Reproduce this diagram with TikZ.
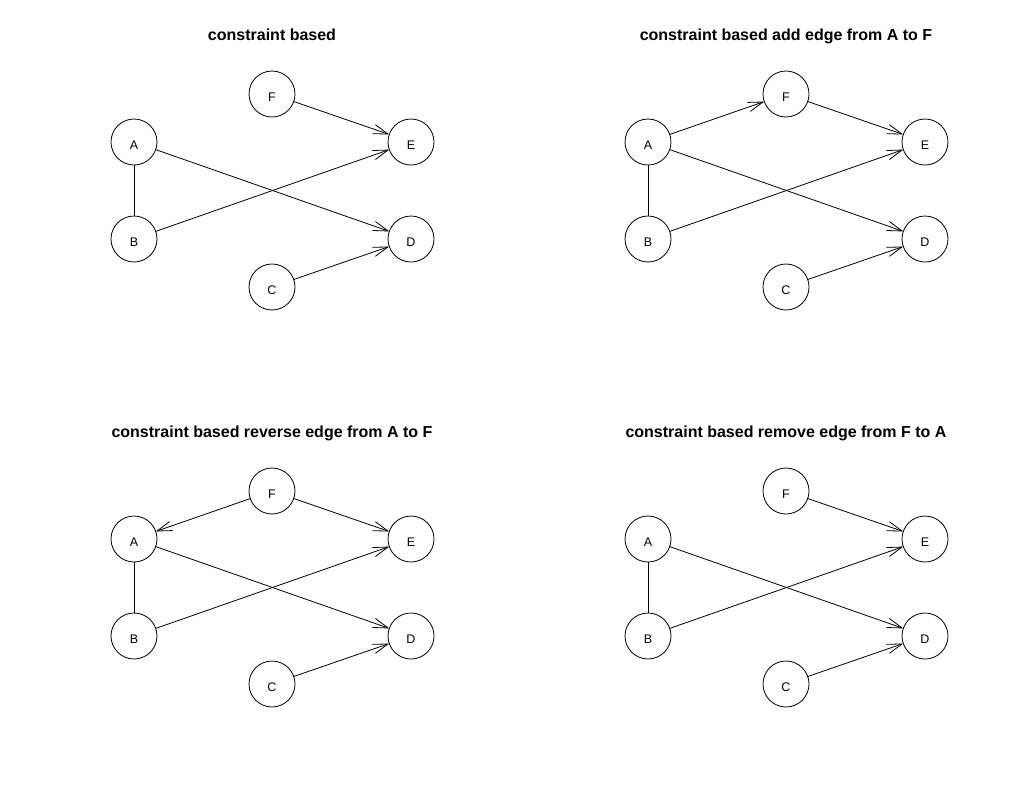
\documentclass[tikz,border=0pt]{standalone}
\usepackage{fontspec}
\setmainfont{Liberation Sans}
\usetikzlibrary{arrows.meta}
\begin{document}
\begin{tikzpicture}[x=1pt,y=-1pt,
  vert/.style={circle,draw,line width=0.8pt,minimum size=46pt,inner sep=0pt,outer sep=0pt,text height=15.6pt,text depth=0pt,font=\fontsize{12.5}{12.5}\selectfont},
  edge/.style={line width=0.8pt},
  arc/.style={edge,-{Straight Barb[length=15pt,width=9.5pt,line width=0.8pt]}},
  ttl/.style={anchor=base,font=\bfseries\fontsize{16}{16}\selectfont}]
\useasboundingbox (0,0) rectangle (1028,796);
% panel 1
\begin{scope}[name prefix=p1-]
\node[ttl] (t) at (272,40) {constraint based};
\node[vert] (A) at (134,142) {A};
\node[vert] (B) at (134,239) {B};
\node[vert] (C) at (272,287) {C};
\node[vert] (D) at (411,239) {D};
\node[vert] (E) at (411,142) {E};
\node[vert] (F) at (272,94) {F};
\draw[edge] (A) -- (B);
\draw[arc] (A) -- (D);
\draw[arc] (B) -- (E);
\draw[arc] (F) -- (E);
\draw[arc] (C) -- (D);
\end{scope}
% panel 2
\begin{scope}[shift={(514,0)},name prefix=p2-]
\node[ttl] (t) at (272,40) {constraint based add edge from A to F};
\node[vert] (A) at (134,142) {A};
\node[vert] (B) at (134,239) {B};
\node[vert] (C) at (272,287) {C};
\node[vert] (D) at (411,239) {D};
\node[vert] (E) at (411,142) {E};
\node[vert] (F) at (272,94) {F};
\draw[edge] (A) -- (B);
\draw[arc] (A) -- (F);
\draw[arc] (A) -- (D);
\draw[arc] (B) -- (E);
\draw[arc] (F) -- (E);
\draw[arc] (C) -- (D);
\end{scope}
% panel 3
\begin{scope}[shift={(0,397)},name prefix=p3-]
\node[ttl] (t) at (272,40) {constraint based reverse edge from A to F};
\node[vert] (A) at (134,142) {A};
\node[vert] (B) at (134,239) {B};
\node[vert] (C) at (272,287) {C};
\node[vert] (D) at (411,239) {D};
\node[vert] (E) at (411,142) {E};
\node[vert] (F) at (272,94) {F};
\draw[edge] (A) -- (B);
\draw[arc] (F) -- (A);
\draw[arc] (A) -- (D);
\draw[arc] (B) -- (E);
\draw[arc] (F) -- (E);
\draw[arc] (C) -- (D);
\end{scope}
% panel 4
\begin{scope}[shift={(514,397)},name prefix=p4-]
\node[ttl] (t) at (272,40) {constraint based remove edge from F to A};
\node[vert] (A) at (134,142) {A};
\node[vert] (B) at (134,239) {B};
\node[vert] (C) at (272,287) {C};
\node[vert] (D) at (411,239) {D};
\node[vert] (E) at (411,142) {E};
\node[vert] (F) at (272,94) {F};
\draw[edge] (A) -- (B);
\draw[arc] (A) -- (D);
\draw[arc] (B) -- (E);
\draw[arc] (F) -- (E);
\draw[arc] (C) -- (D);
\end{scope}
\end{tikzpicture}
\end{document}
